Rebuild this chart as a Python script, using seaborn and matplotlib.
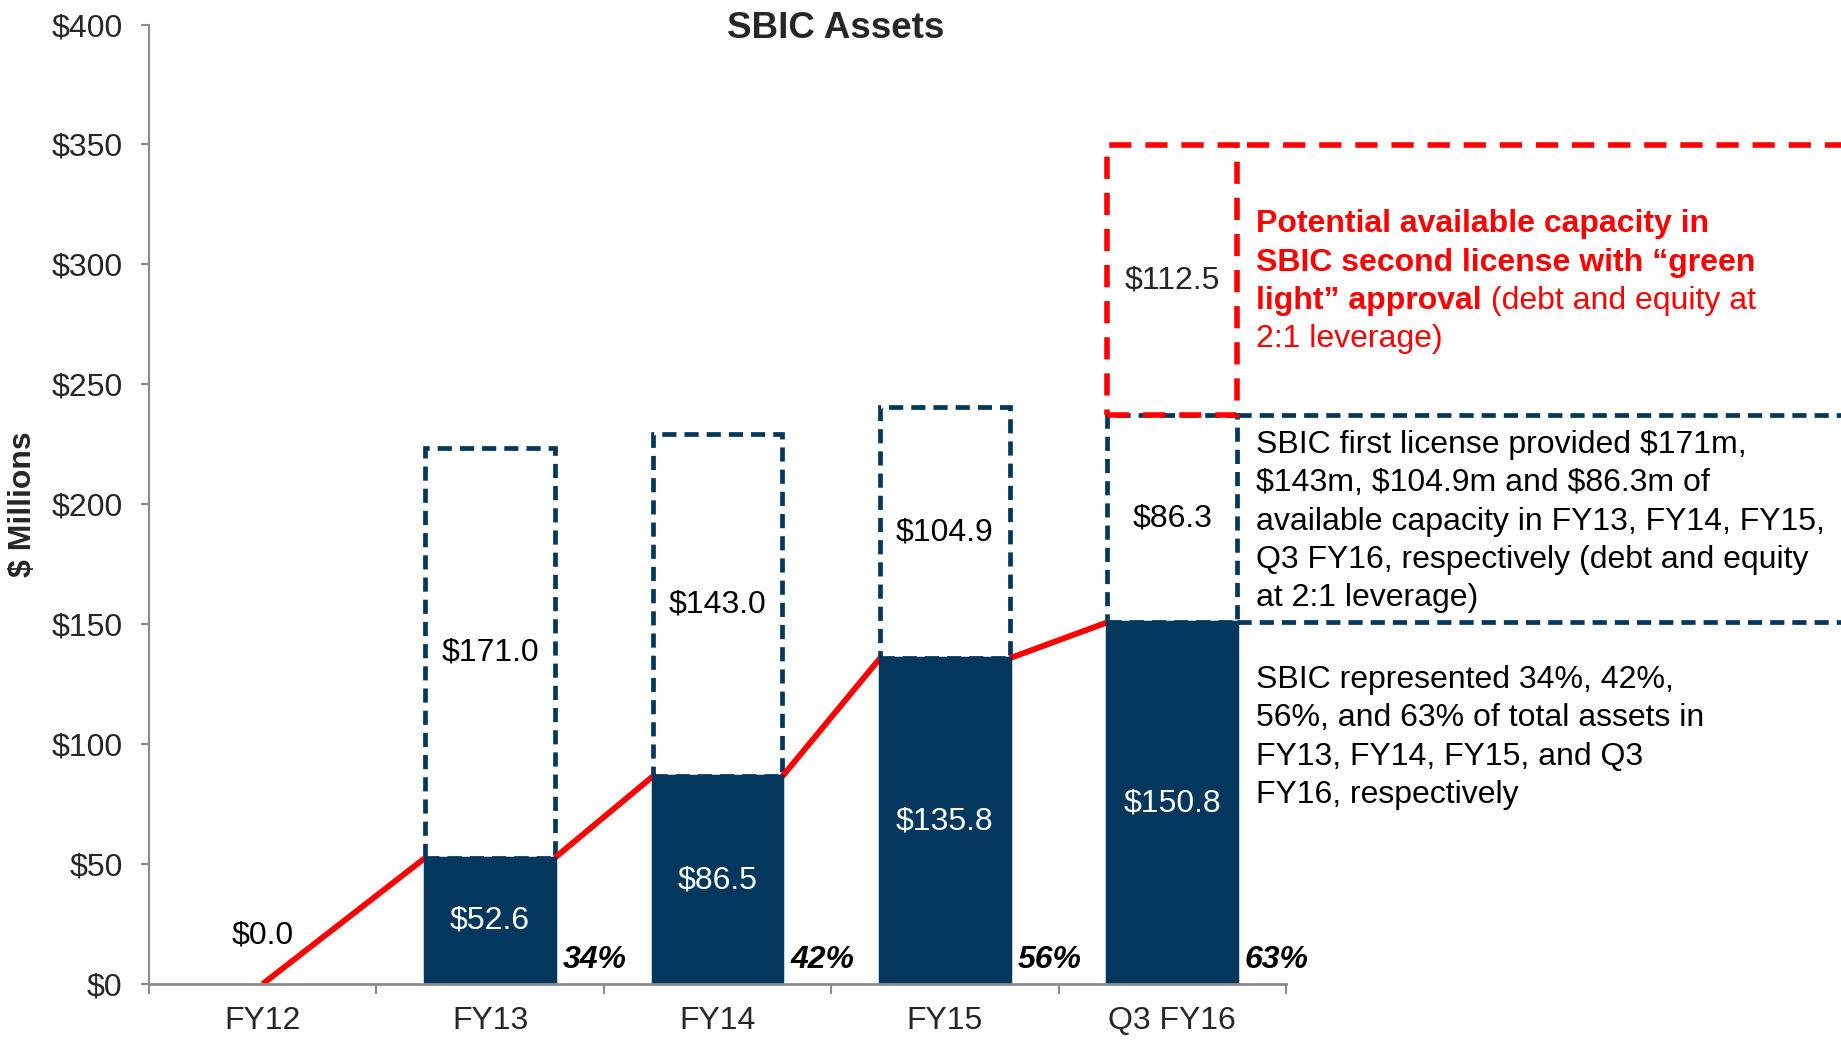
import matplotlib
matplotlib.use('Agg')

import numpy as np
import seaborn as sns
import matplotlib.pyplot as plt


periods = ['FY12', 'FY13', 'FY14', 'FY15', 'Q3 FY16']
sbic_assets = [0.0, 52.6, 86.5, 135.8, 150.8]
first_license_capacity = [0.0, 171.0, 143.0, 104.9, 86.3]
second_license_capacity = 112.5
pct_of_total = ['', '34%', '42%', '56%', '63%']
y_ticks = [0, 50, 100, 150, 200, 250, 300, 350, 400]

red_note = [
    [('Potential available capacity in', 'bold')],
    [('SBIC second license with \u201cgreen', 'bold')],
    [('light\u201d approval', 'bold'), (' (debt and equity at', 'normal')],
    [('2:1 leverage)', 'normal')],
]
license_note = [
    'SBIC first license provided $171m,',
    '$143m, $104.9m and $86.3m of',
    'available capacity in FY13, FY14, FY15,',
    'Q3 FY16, respectively (debt and equity',
    'at 2:1 leverage)',
]
share_note = [
    'SBIC represented 34%, 42%,',
    '56%, and 63% of total assets in',
    'FY13, FY14, FY15, and Q3',
    'FY16, respectively',
]

navy = '#03375e'
red = '#ff0000'
grey = '#8c8c8c'

sns.set_style('white')
plt.rcParams['font.family'] = ['Liberation Sans', 'DejaVu Sans']
plt.rcParams['text.parse_math'] = False
plt.rcParams['font.size'] = 23

fig = plt.figure(figsize=(18.41, 10.41), dpi=100)
ax = fig.add_axes([0.0809, 0.0548, 0.6176, 0.9216])

w = 0.57
x = np.arange(len(periods))
assets = np.array(sbic_assets)
cap = np.array(first_license_capacity)
navy_dash = (0, (3.0, 1.7))
red_dash = (0, (4, 2.5))

sns.barplot(x=periods, y=sbic_assets, color=navy, saturation=1, width=w, ax=ax,
            edgecolor=navy, linewidth=2.5, zorder=2)
for p in ax.patches:
    if p.get_height() == 0:
        p.set_linewidth(0)

# first license capacity boxes
ax.bar(x[1:], cap[1:], bottom=assets[1:], width=w, fill=False, edgecolor=navy,
       linewidth=3.4, linestyle=navy_dash, zorder=1)
# second license box
top_first = assets[-1] + cap[-1]
ax.bar(x[-1], second_license_capacity, bottom=top_first, width=w, fill=False, edgecolor=red,
       linewidth=4, linestyle=red_dash, zorder=3)

# dashed guides running off to the right
for yv in [assets[-1], top_first]:
    ax.plot([x[-1] + w / 2, 8], [yv, yv], color=navy, lw=3.4, ls=navy_dash,
            clip_on=False, zorder=1)
ax.plot([x[-1] + 0.33, 8], [top_first + second_license_capacity] * 2, color=red, lw=4,
        ls=red_dash, clip_on=False, zorder=1)

# red growth line between bar corners
lx, ly = [x[0]], [assets[0]]
for i in range(1, len(x)):
    lx += [x[i] - w / 2, np.nan, x[i] + w / 2]
    ly += [assets[i], np.nan, assets[i]]
ax.plot(lx[:-2], ly[:-2], color=red, lw=4.2, zorder=1.5, solid_capstyle='butt')

# value labels
for i, (a, c) in enumerate(zip(assets, cap)):
    if a > 0:
        ax.text(i, a / 2, f'${a:.1f}', color='white', ha='center', va='center', zorder=5)
        ax.text(i, a + c / 2, f'${c:.1f}', color='black', ha='center', va='center', zorder=5)
        ax.text(i + 0.32, 9.8, pct_of_total[i], color='black', weight='bold', style='italic',
                ha='left', va='center', zorder=5)
    else:
        ax.text(i, 20, f'${a:.1f}', color='black', ha='center', va='center', zorder=5)
ax.text(x[-1], top_first + second_license_capacity / 2, f'${second_license_capacity:.1f}',
        ha='center', va='center', zorder=5)

ax.set_xlim(-0.5, 4.5)
ax.set_ylim(0, 400)
ax.set_yticks(y_ticks)
ax.set_yticklabels([f'${t}' for t in y_ticks])
ax.set_xticks(x)
ax.set_xticklabels(periods)
ax.set_xticks(np.arange(-0.5, 5, 1), minor=True)
ax.set_xlabel('')
ax.set_ylabel('')
ax.tick_params(axis='y', left=True, length=6, width=1.5, color=grey, pad=13, labelsize=23)
ax.tick_params(axis='x', which='major', bottom=True, length=0, pad=16, labelsize=23)
ax.tick_params(axis='x', which='minor', bottom=True, length=7, width=1.5, color=grey)
for s in ['top', 'right']:
    ax.spines[s].set_visible(False)
ax.spines['left'].set_color(grey)
ax.spines['left'].set_linewidth(1.5)
ax.spines['bottom'].set_color(grey)
ax.spines['bottom'].set_linewidth(2)
ax.spines['bottom'].set_zorder(3)

fig.text(0.454, 0.973, 'SBIC Assets', ha='center', va='center', weight='bold', size=26.5)
fig.text(0.0125, 0.516, '$ Millions', rotation=90, ha='center', va='center', weight='bold', size=23)

# side notes
note_x = 4.37
step = 16.0
fig.canvas.draw()
renderer = fig.canvas.get_renderer()


def put_line(segments, y, color):
    xs = note_x
    for txt, wt in segments:
        t = ax.text(xs, y, txt, color=color, weight=wt, ha='left', va='baseline',
                    clip_on=False, zorder=5)
        bb = t.get_window_extent(renderer)
        xs = ax.transData.inverted().transform((bb.x1, bb.y0))[0]


for k, segs in enumerate(red_note):
    put_line(segs, 318 - 4.6 - k * step, red)
for k, line in enumerate(license_note):
    put_line([(line, 'normal')], 226 - 4.6 - k * step, 'black')
for k, line in enumerate(share_note):
    put_line([(line, 'normal')], 128 - 4.6 - k * step, 'black')

fig.savefig('out.png', dpi=100)
